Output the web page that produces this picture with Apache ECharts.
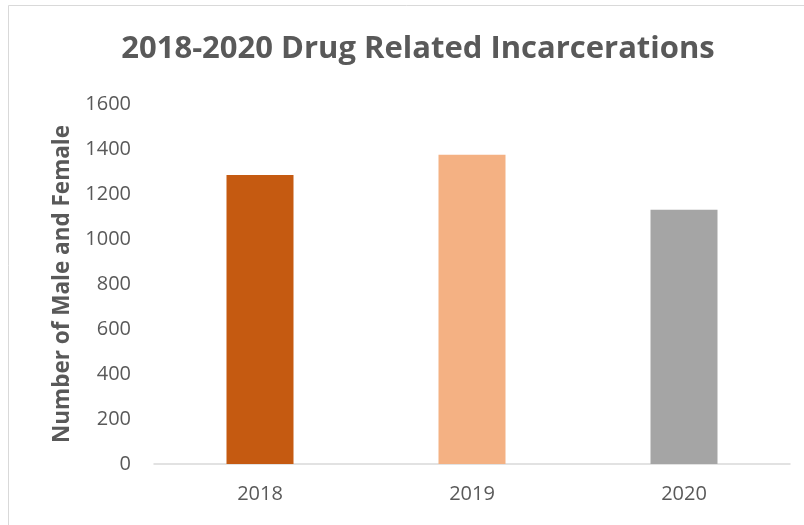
<!DOCTYPE html>
<html>
<head>
<meta charset="utf-8">
<script src="https://cdn.jsdelivr.net/npm/echarts@6/dist/echarts.min.js"></script>
<style>html,body{margin:0;padding:0;background:#fff;}#c{width:804px;height:525px;}</style>
</head>
<body>
<div id="c"></div>
<script>
const categories = ['2018', '2019', '2020'];
const values = [1285, 1374, 1130];
const colors = ['#C55A11', '#F4B183', '#A5A5A5'];
const yTicks = { min: 0, max: 1600, interval: 200 };

const chart = echarts.init(document.getElementById('c'));
chart.setOption({
  backgroundColor: '#fff',
  animation: false,
  title: {
    text: '2018-2020 Drug Related Incarcerations',
    left: 413, top: 29, textAlign: 'center',
    textStyle: { fontFamily: 'Open Sans', fontWeight: 'bold', fontSize: 31, color: '#595959' }
  },
  graphic: [{
    type: 'rect', shape: { x: 8.5, y: 5.5, width: 820, height: 560 },
    style: { fill: 'none', stroke: '#D9D9D9', lineWidth: 1 }, silent: true
  }],
  grid: { left: 154, right: 14, top: 104, bottom: 61 },
  xAxis: {
    type: 'category', data: categories,
    axisLine: { lineStyle: { color: '#D9D9D9', width: 1.5 } },
    axisTick: { show: false },
    axisLabel: { color: '#595959', fontFamily: 'Open Sans', fontSize: 20, margin: 20 }
  },
  yAxis: {
    type: 'value', min: yTicks.min, max: yTicks.max, interval: yTicks.interval,
    name: 'Number of Male and Female', nameLocation: 'middle', nameGap: 80,
    nameTextStyle: { fontFamily: 'Open Sans', fontWeight: 'bold', fontSize: 22.5, color: '#595959' },
    axisLine: { show: false }, axisTick: { show: false }, splitLine: { show: false },
    axisLabel: { color: '#595959', fontFamily: 'Open Sans', fontSize: 20, margin: 23,
      formatter: v => String(v) }
  },
  series: [{
    type: 'bar', barWidth: 67,
    data: values.map((v, i) => ({ value: v, itemStyle: { color: colors[i] } }))
  }]
});
</script>
</body>
</html>
